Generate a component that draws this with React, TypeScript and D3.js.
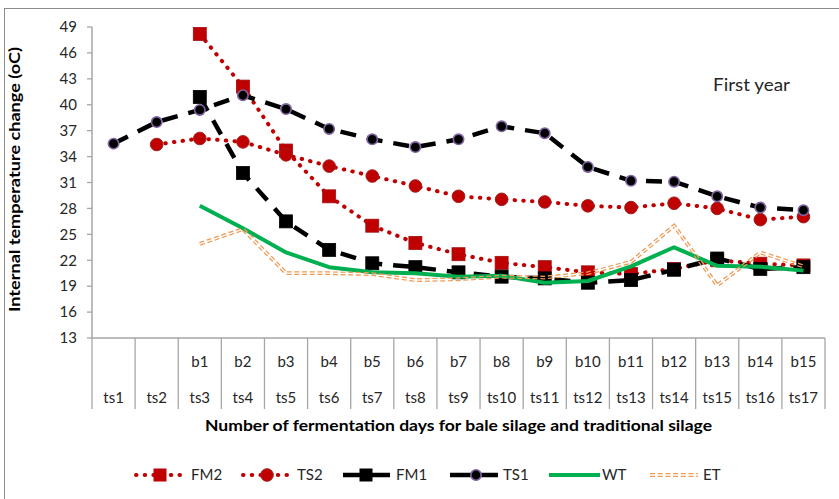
import React from "react";
import * as d3 from "d3";

const outerLabels = ["ts1","ts2","ts3","ts4","ts5","ts6","ts7","ts8","ts9","ts10","ts11","ts12","ts13","ts14","ts15","ts16","ts17"];
const innerLabels = ["","","b1","b2","b3","b4","b5","b6","b7","b8","b9","b10","b11","b12","b13","b14","b15"];
const yTicks = [13,16,19,22,25,28,31,34,37,40,43,46,49];

const FM2 = [null,null,48.2,42.1,34.7,29.4,26.0,24.0,22.7,21.7,21.2,20.6,20.4,21.0,22.0,21.6,21.4];
const TS2 = [null,35.4,36.1,35.7,34.2,32.9,31.75,30.6,29.4,29.05,28.75,28.3,28.1,28.6,28.0,26.7,27.05];
const FM1 = [null,null,40.9,32.1,26.5,23.2,21.65,21.2,20.6,20.1,19.9,19.4,19.7,20.9,22.2,21.0,21.2];
const TS1 = [35.5,38.0,39.4,41.1,39.5,37.2,36.0,35.1,36.0,37.5,36.7,32.8,31.2,31.1,29.4,28.1,27.8];
const WT = [null,null,28.3,25.7,22.9,21.2,20.6,20.5,20.1,20.2,19.4,19.6,21.3,23.5,21.35,21.25,20.8];
const ET = [null,null,23.9,25.6,20.5,20.5,20.4,19.7,19.8,20.1,20.0,20.5,21.8,26.0,19.1,22.9,21.3];

const W = 839, H = 499;
const FONT = "Lato, 'Open Sans', sans-serif";
const RED = "#C00000";
const GREEN = "#00B050";
const ORANGE = "#EE9A55";
const AXIS = "#A6A6A6";
const TXT = "#262626";

export default function App() {
  const x = d3.scaleBand<string>().domain(outerLabels).range([92, 825]);
  const y = d3.scaleLinear().domain([13, 49]).range([338, 27]);
  const cx = (i: number) => (x(outerLabels[i]) as number) + x.bandwidth() / 2;

  const lineGen = d3.line<[number, number]>().x(d => d[0]).y(d => d[1]);
  const pts = (arr: (number | null)[]) =>
    arr.map((v, i) => (v == null ? null : [cx(i), y(v)] as [number, number])).filter(Boolean) as [number, number][];
  const path = (arr: (number | null)[]) => lineGen(pts(arr)) || "";

  const square = (p: [number, number], fill: string, stroke: string, key: string) => (
    <rect key={key} x={p[0] - 6.5} y={p[1] - 6.5} width={13} height={13} fill={fill} stroke={stroke} strokeWidth={0.8} />
  );

  const etPath = path(ET);

  const legendY = 475;

  return (
    <svg width={W} height={H} style={{ position: "absolute", left: 0, top: 0, fontFamily: FONT }}>
      <defs>
        <mask id="etmask" maskUnits="userSpaceOnUse" x={0} y={0} width={W} height={H}>
          <rect x={0} y={0} width={W} height={H} fill="white" />
          <path d={etPath} fill="none" stroke="black" strokeWidth={1.3} />
          <line x1={650} x2={698} y1={legendY} y2={legendY} stroke="black" strokeWidth={1.3} />
        </mask>
      </defs>
      <rect x={0} y={0} width={W} height={H} fill="white" />
      <rect x={4.5} y={8.5} width={W} height={H} fill="none" stroke="#8C8C8C" strokeWidth={1} />

      {/* y axis */}
      <line x1={92} x2={92} y1={y(49)} y2={y(13)} stroke={AXIS} strokeWidth={1.5} />
      {yTicks.map(t => (
        <g key={t}>
          <line x1={87} x2={92} y1={y(t)} y2={y(t)} stroke={AXIS} strokeWidth={1.3} />
          <text x={77} y={y(t)} dy="0.35em" textAnchor="end" fontSize={15} fill={TXT}>{t}</text>
        </g>
      ))}

      {/* x axis */}
      <line x1={92} x2={825} y1={y(13)} y2={y(13)} stroke={AXIS} strokeWidth={1.5} />
      {outerLabels.map((c, i) => (
        <line key={"s" + i} x1={x(c) as number} x2={x(c) as number} y1={y(13)} y2={409} stroke={AXIS} strokeWidth={1.3} />
      ))}
      <line x1={825} x2={825} y1={y(13)} y2={409} stroke={AXIS} strokeWidth={1.3} />
      {outerLabels.map((c, i) => (
        <g key={"l" + i}>
          <text x={cx(i)} y={367} textAnchor="middle" fontSize={15} fill={TXT}>{innerLabels[i]}</text>
          <text x={cx(i)} y={403} textAnchor="middle" fontSize={15} fill={TXT}>{c}</text>
        </g>
      ))}

      {/* titles */}
      <text x={205} y={431} textLength={507} lengthAdjust="spacingAndGlyphs" fontSize={16} fontWeight="bold" fill="black">
        Number of fermentation days for bale silage and traditional silage
      </text>
      <text transform={`translate(20,312) rotate(-90)`} textLength={265} lengthAdjust="spacingAndGlyphs" fontSize={15} fontWeight="bold" fill="black">
        Internal temperature change (oC)
      </text>
      <text x={713} y={91} fontSize={17} fill={TXT} textLength={77} lengthAdjust="spacingAndGlyphs">First year</text>

      {/* series */}
      <path d={path(FM2)} fill="none" stroke={RED} strokeWidth={4} strokeDasharray="0.5 8.2" strokeLinecap="round" />
      {pts(FM2).map((p, i) => square(p, RED, "#A01010", "fm2" + i))}

      <path d={path(TS2)} fill="none" stroke={RED} strokeWidth={4} strokeDasharray="0.5 8.2" strokeLinecap="round" />
      {pts(TS2).map((p, i) => <circle key={"ts2" + i} cx={p[0]} cy={p[1]} r={6.3} fill={RED} stroke="#A02020" strokeWidth={1} />)}

      <path d={path(FM1)} fill="none" stroke="black" strokeWidth={4.5} strokeDasharray="16 11" />
      {pts(FM1).map((p, i) => square(p, "black", "black", "fm1" + i))}

      <path d={path(TS1)} fill="none" stroke="black" strokeWidth={4.5} strokeDasharray="16 11" />
      {pts(TS1).map((p, i) => <circle key={"ts1" + i} cx={p[0]} cy={p[1]} r={5.2} fill="black" stroke="#8064A2" strokeWidth={1.6} />)}

      <path d={path(WT)} fill="none" stroke={GREEN} strokeWidth={4} strokeLinejoin="round" />

      <path d={etPath} fill="none" stroke={ORANGE} strokeWidth={3.8} strokeDasharray="5 2.7" mask="url(#etmask)" />

      {/* legend */}
      <g>
        <line x1={136} x2={184} y1={legendY} y2={legendY} stroke={RED} strokeWidth={4} strokeDasharray="0.5 8.2" strokeLinecap="round" />
        <rect x={153.5} y={legendY - 6.5} width={13} height={13} fill={RED} />
        <text x={191} y={legendY} dy="0.35em" fontSize={15} fill={TXT}>FM2</text>

        <line x1={243} x2={290} y1={legendY} y2={legendY} stroke={RED} strokeWidth={4} strokeDasharray="0.5 8.2" strokeLinecap="round" />
        <circle cx={267} cy={legendY} r={6.3} fill={RED} stroke="#A02020" strokeWidth={1} />
        <text x={297} y={legendY} dy="0.35em" fontSize={15} fill={TXT}>TS2</text>

        <line x1={343} x2={390} y1={legendY} y2={legendY} stroke="black" strokeWidth={4.5} />
        <rect x={359.5} y={legendY - 6.5} width={13} height={13} fill="black" />
        <text x={396} y={legendY} dy="0.35em" fontSize={15} fill={TXT}>FM1</text>

        <line x1={450} x2={498} y1={legendY} y2={legendY} stroke="black" strokeWidth={4.5} />
        <circle cx={476} cy={legendY} r={5.2} fill="black" stroke="#8064A2" strokeWidth={1.6} />
        <text x={503} y={legendY} dy="0.35em" fontSize={15} fill={TXT}>TS1</text>

        <line x1={549} x2={600} y1={legendY} y2={legendY} stroke={GREEN} strokeWidth={4} />
        <text x={602} y={legendY} dy="0.35em" fontSize={15} fill={TXT}>WT</text>

        <line x1={650} x2={698} y1={legendY} y2={legendY} stroke={ORANGE} strokeWidth={3.8} strokeDasharray="5 2.7" mask="url(#etmask)" />
        <text x={703} y={legendY} dy="0.35em" fontSize={15} fill={TXT}>ET</text>
      </g>
    </svg>
  );
}
